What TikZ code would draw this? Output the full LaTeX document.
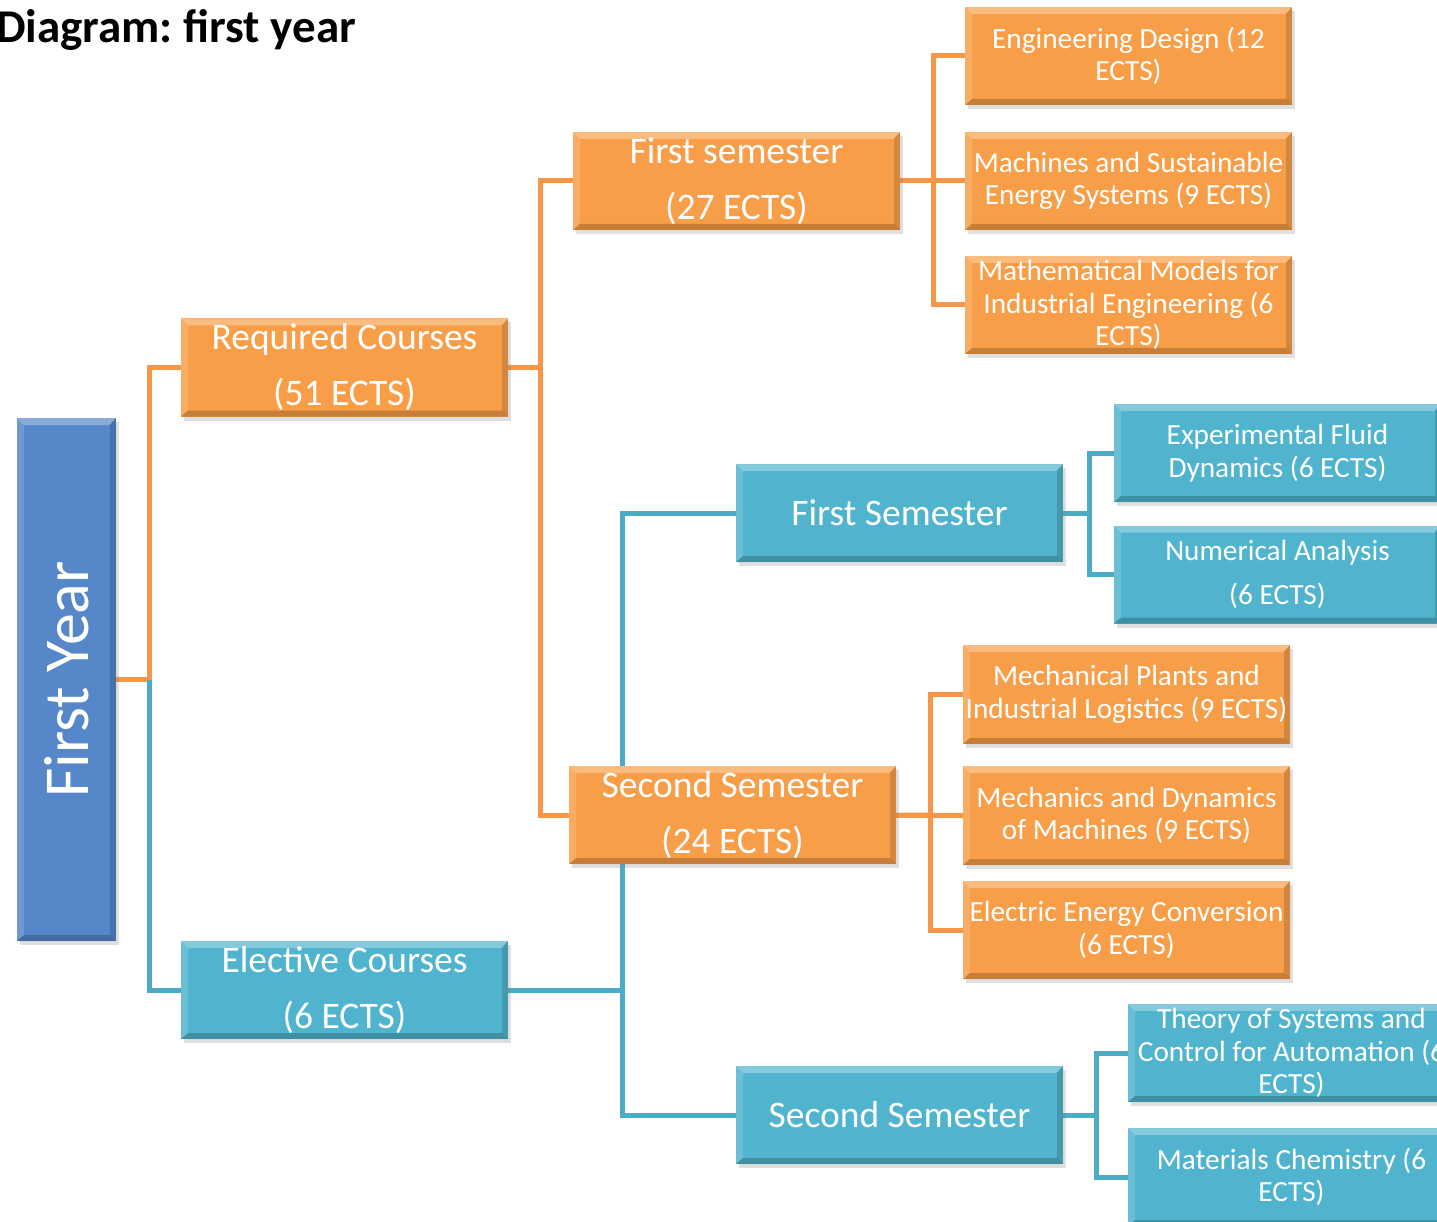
\documentclass[tikz,border=0pt]{standalone}
\usepackage{fontspec}
\setmainfont{Carlito}
\usepackage{graphicx}
\usetikzlibrary{shadows}
\pgfdeclarelayer{back}
\pgfdeclarelayer{bg}
\pgfsetlayers{back,bg,main}
\definecolor{ofill}{RGB}{249,158,72}
\definecolor{oline}{RGB}{247,150,70}
\definecolor{tfill}{RGB}{80,180,206}
\definecolor{tline}{RGB}{75,172,198}
\definecolor{bfill}{RGB}{85,135,201}
\frenchspacing
\tikzset{
  bevel/.style={path picture={
    \path (path picture bounding box.north west) coordinate (ppnw)
          (path picture bounding box.north east) coordinate (ppne)
          (path picture bounding box.south west) coordinate (ppsw)
          (path picture bounding box.south east) coordinate (ppse);
    \fill[white,opacity=0.3] (ppnw) -- (ppne) -- ([shift={(-7pt,-7pt)}]ppne) -- ([shift={(7pt,-7pt)}]ppnw) -- cycle;
    \fill[white,opacity=0.15] (ppnw) -- ([shift={(7pt,-7pt)}]ppnw) -- ([shift={(7pt,6pt)}]ppsw) -- (ppsw) -- cycle;
    \fill[black,opacity=0.15] (ppne) -- (ppse) -- ([shift={(-6pt,6pt)}]ppse) -- ([shift={(-6pt,-7pt)}]ppne) -- cycle;
    \fill[black,opacity=0.2] (ppsw) -- (ppse) -- ([shift={(-6pt,6pt)}]ppse) -- ([shift={(7pt,6pt)}]ppsw) -- cycle;
  }},
  basebox/.style={rectangle, inner sep=0pt, minimum width=327pt, minimum height=98pt,
    text=white, align=center, bevel,
    drop shadow={shadow xshift=3pt, shadow yshift=-4pt, opacity=0.25}},
  obox/.style={basebox, fill=ofill},
  tbox/.style={basebox, fill=tfill},
  bigtxt/.style={font=\fontsize{37.5}{56}\selectfont},
  smalltxt/.style={font=\fontsize{29.3}{32.5}\selectfont},
  oconn/.style={draw=oline, line width=5pt},
  tconn/.style={draw=tline, line width=5pt},
}
\begin{document}
\begin{tikzpicture}[x=1pt,y=-1pt]
\useasboundingbox (0,0) rectangle (1437,1222);
\begin{pgfonlayer}{back}
\fill[white] (0,0) rectangle (1437,1222);
\end{pgfonlayer}

\node[anchor=base west, font=\fontsize{47}{52}\selectfont\bfseries, inner sep=0pt] (title) at (-4,43) {Diagram: first year};

\node[basebox, fill=bfill, minimum width=99pt, minimum height=523pt] (fy) at (66.5,679.5)
  {\rotatebox{90}{\fontsize{64}{70}\selectfont First Year}};

\node[obox, bigtxt] (req) at (344.5,367.5) {Required Courses\\(51 ECTS)};
\node[tbox, bigtxt] (elec) at (344.5,990) {Elective Courses\\(6 ECTS)};
\node[obox, bigtxt] (fs1) at (736.5,181) {First semester\\(27 ECTS)};
\node[obox, bigtxt] (ss1) at (732.5,815) {Second Semester\\(24 ECTS)};
\node[tbox, bigtxt] (fs2) at (899.5,513) {First Semester};
\node[tbox, bigtxt] (ss2) at (899.5,1115) {Second Semester};

\node[obox, smalltxt] (ed) at (1128.5,56) {Engineering Design (12\\ECTS)};
\node[obox, smalltxt] (mse) at (1128.5,181) {Machines and Sustainable\\Energy Systems (9 ECTS)};
\node[obox, smalltxt] (mm) at (1128.5,305) {Mathematical Models for\\Industrial Engineering (6\\ECTS)};
\node[tbox, smalltxt] (efd) at (1277.5,453) {Experimental Fluid\\Dynamics (6 ECTS)};
\node[tbox, smalltxt] (na) at (1277.5,574.5) {Numerical Analysis\\[12pt](6 ECTS)};
\node[obox, smalltxt, minimum height=99pt] (mpl) at (1126.5,694.5) {Mechanical Plants and\\Industrial Logistics (9 ECTS)};
\node[obox, smalltxt, minimum height=99pt] (mdm) at (1126.5,815.5) {Mechanics and Dynamics\\of Machines (9 ECTS)};
\node[obox, smalltxt] (eec) at (1126.5,930) {Electric Energy Conversion\\(6 ECTS)};
\node[tbox, smalltxt] (tsc) at (1291.5,1053) {Theory of Systems and\\Control for Automation (6\\ECTS)};
\node[tbox, smalltxt] (mc) at (1291.5,1177) {Materials Chemistry (6\\ECTS)};

\begin{pgfonlayer}{bg}
  \draw[oconn] (fy.east) -- ++(33,0) |- (req.west);
  \draw[tconn] ([xshift=33pt]fy.east) |- (elec.west);
  \draw[oconn] (req.east) -- ++(32,0) |- (fs1.west);
  \draw[oconn] ([xshift=32pt]req.east) |- (ss1.west);
  \draw[tconn] (elec.east) -- ++(114,0) |- (fs2.west);
  \draw[tconn] ([xshift=114pt]elec.east) |- (ss2.west);
  \draw[oconn] (fs1.east) -- ++(33,0) |- (ed.west);
  \draw[oconn] (fs1.east) -- (mse.west);
  \draw[oconn] ([xshift=33pt]fs1.east) |- (mm.west);
  \draw[tconn] (fs2.east) -- ++(26,0) |- (efd.west);
  \draw[tconn] ([xshift=26pt]fs2.east) |- (na.west);
  \draw[oconn] (ss1.east) -- ++(34,0) |- (mpl.west);
  \draw[oconn] (ss1.east) -- (mdm.west);
  \draw[oconn] ([xshift=34pt]ss1.east) |- (eec.west);
  \draw[tconn] (ss2.east) -- ++(33,0) |- (tsc.west);
  \draw[tconn] ([xshift=33pt]ss2.east) |- (mc.west);
\end{pgfonlayer}
\end{tikzpicture}
\end{document}
